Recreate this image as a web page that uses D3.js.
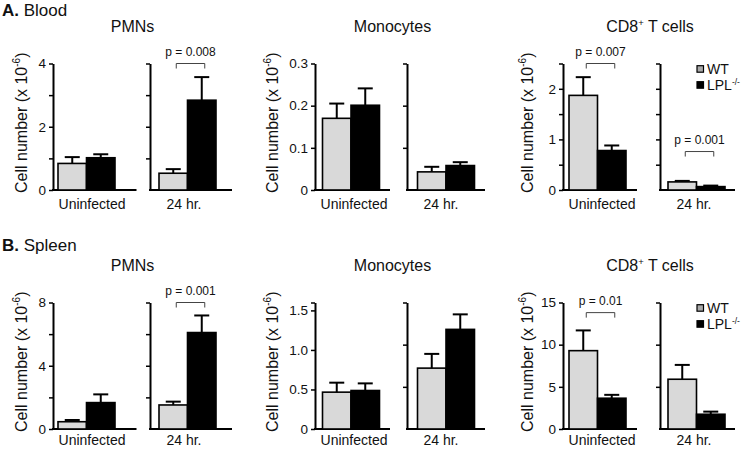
<!DOCTYPE html>
<html>
<head>
<meta charset="utf-8">
<script src="https://cdn.jsdelivr.net/npm/d3@7"></script>
<style>
  body { margin: 0; background: #fff; }
  svg text { font-family: "Liberation Sans", Arial, Helvetica, sans-serif; fill: #111; }
</style>
</head>
<body>
<script>
// ---------------- DATA ----------------
const rowLetters = ["A.", "B."];
const rowNames = ["Blood", "Spleen"];
const cellTypes = ["PMNs", "Monocytes", "CD8"];   // CD8 gets superscript "+"
const conditions = ["Uninfected", "24 hr."];
const groups = ["WT", "LPL"];                    // LPL gets superscript "-/-"

// means & SEM per cell type: [Uninfected, 24 hr.]
const bloodWTMean  = [[0.84, 0.53], [0.170, 0.043], [1.87, 0.16]];
const bloodWTSem   = [[0.20, 0.13], [0.035, 0.012], [0.36, 0.02]];
const bloodLPLMean = [[1.02, 2.84], [0.201, 0.058], [0.78, 0.067]];
const bloodLPLSem  = [[0.11, 0.73], [0.040, 0.008], [0.10, 0.02]];

const spleenWTMean  = [[0.46, 1.52], [0.466, 0.77], [9.29, 5.90]];
const spleenWTSem   = [[0.11, 0.21], [0.120, 0.18], [2.40, 1.70]];
const spleenLPLMean = [[1.67, 6.10], [0.487, 1.26], [3.65, 1.75]];
const spleenLPLSem  = [[0.52, 1.08], [0.090, 0.19], [0.40, 0.31]];

// axis domains and ticks
const bloodYMax  = [4, 0.3, 2.5];
const spleenYMax = [8, 1.6, 15];
const bloodTicks  = [[0, 1, 2, 3, 4], [0, 0.1, 0.2, 0.3], [0, 0.5, 1, 1.5, 2, 2.5]];
const spleenTicks = [[0, 2, 4, 6, 8], [0, 0.5, 1, 1.5, 1.6], [0, 5, 10, 15]];
const bloodTickLabels  = [["0", "2", "4"], ["0", "0.1", "0.2", "0.3"], ["0", "1", "2"]];
const spleenTickLabels = [["0", "4", "8"], ["0", "0.5", "1.0", "1.5"], ["0", "5", "10", "15"]];
const bloodRightTicks  = [[1, 2, 3, 4], [0.1, 0.2, 0.3], [0.5, 1, 1.5, 2, 2.5]];
const spleenRightTicks = [[2, 4, 6, 8], [0.533, 1.067, 1.6], [5, 10, 15]];

// significance brackets: cell index, condition index, label, y level (data units)
const bloodPCell  = [0, 2, 2];
const bloodPCond  = [1, 0, 1];
const bloodPText  = ["p = 0.008", "p = 0.007", "p = 0.001"];
const bloodPLevel = [4, 2.5, 0.76];
const spleenPCell  = [0, 2];
const spleenPCond  = [1, 0];
const spleenPText  = ["p = 0.001", "p = 0.01"];
const spleenPLevel = [8, 13.8];

// ---------------- LAYOUT ----------------
const W = 750, H = 449;
const rowOffset = [0, 239];
const headY = [16, 251];
const condY = [209, 206];
const plotTop = 63.5, plotBottom = 190;
const axisX = [[53, 150], [315, 407], [563, 660]];
const barStart = [[58, 159], [322.5, 417.5], [569, 668]];
const baseEnd = [[136.5, 232], [390, 485], [637, 735]];
const barW = 28.5;
const titleX = [132.5, 392.5, 650];
const yTitleX = [26.5, 277.5, 532.5];
const condLabelDx = [39, 34];
const colors = { WT: "#d9d9d9", LPL: "#000000" };

const svg = d3.select("body").append("svg")
  .attr("width", W).attr("height", H);

const rowsData = [
  { wtM: bloodWTMean, wtS: bloodWTSem, lpM: bloodLPLMean, lpS: bloodLPLSem,
    yMax: bloodYMax, ticks: bloodTicks, labels: bloodTickLabels, rTicks: bloodRightTicks,
    pCell: bloodPCell, pCond: bloodPCond, pText: bloodPText, pLevel: bloodPLevel },
  { wtM: spleenWTMean, wtS: spleenWTSem, lpM: spleenLPLMean, lpS: spleenLPLSem,
    yMax: spleenYMax, ticks: spleenTicks, labels: spleenTickLabels, rTicks: spleenRightTicks,
    pCell: spleenPCell, pCond: spleenPCond, pText: spleenPText, pLevel: spleenPLevel }
];

rowsData.forEach((R, r) => {
  const g = svg.append("g").attr("transform", `translate(0,${rowOffset[r]})`);

  // Row heading
  const head = svg.append("text").attr("x", 2).attr("y", headY[r]).style("font-size", "17px");
  head.append("tspan").style("font-weight", "bold").text(rowLetters[r]);
  head.append("tspan").text(" " + rowNames[r]);

  cellTypes.forEach((ct, c) => {
    const y = d3.scaleLinear().domain([0, R.yMax[c]]).range([plotBottom, plotTop]);

    // Panel title
    const t = g.append("text").attr("x", titleX[c]).attr("y", 32)
      .attr("text-anchor", "middle").style("font-size", "16px");
    if (ct === "CD8") {
      t.append("tspan").text("CD8");
      t.append("tspan").attr("dy", -6).style("font-size", "9.5px").text("+");
      t.append("tspan").attr("dy", 6).text(" T cells");
    } else {
      t.text(ct);
    }

    // Y-axis title
    const yt = g.append("text")
      .attr("transform", `translate(${yTitleX[c]},${(plotTop + plotBottom) / 2 - 4}) rotate(-90)`)
      .attr("text-anchor", "middle").style("font-size", "16px");
    yt.append("tspan").text("Cell number (x 10");
    yt.append("tspan").attr("dy", -6.5).style("font-size", "10px").text("-6");
    yt.append("tspan").attr("dy", 6.5).text(")");

    conditions.forEach((cond, s) => {
      const ax = axisX[c][s];
      const labelSet = new Set(R.labels[c].map(v => +v));
      const labelMap = new Map(R.labels[c].map(v => [+v, v]));
      const axis = d3.axisLeft(y)
        .tickValues(s === 0 ? R.ticks[c] : R.rTicks[c])
        .tickSize(4).tickSizeOuter(0).tickPadding(3)
        .tickFormat(d => (s === 0 && labelSet.has(d)) ? labelMap.get(d) : "");
      const ag = g.append("g").attr("transform", `translate(${ax},0)`).call(axis);
      ag.select(".domain").attr("stroke", "#000").attr("stroke-width", 2);
      ag.selectAll(".tick line").attr("stroke", "#000").attr("stroke-width", 1.5);
      ag.selectAll(".tick text").style("font-size", "13.5px")
        .style("font-family", '"Liberation Sans", Arial, sans-serif').attr("fill", "#111");

      // baseline
      g.append("line").attr("x1", ax - 1).attr("x2", baseEnd[c][s])
        .attr("y1", y(0)).attr("y2", y(0)).attr("stroke", "#000").attr("stroke-width", 2);

      // bars
      const x = d3.scaleBand().domain(groups)
        .range([barStart[c][s], barStart[c][s] + 2 * barW]).padding(0);
      const vals = [
        { g: "WT", m: R.wtM[c][s], e: R.wtS[c][s] },
        { g: "LPL", m: R.lpM[c][s], e: R.lpS[c][s] }
      ];
      g.selectAll(null).data(vals).enter().append("rect")
        .attr("x", d => x(d.g)).attr("width", x.bandwidth())
        .attr("y", d => y(d.m)).attr("height", d => y(0) - y(d.m))
        .attr("fill", d => colors[d.g]).attr("stroke", "#000").attr("stroke-width", 1.6);
      // error bars (upper only)
      vals.forEach(d => {
        const cx = x(d.g) + x.bandwidth() / 2;
        g.append("line").attr("x1", cx).attr("x2", cx)
          .attr("y1", y(d.m)).attr("y2", y(d.m + d.e))
          .attr("stroke", "#000").attr("stroke-width", 2);
        g.append("line").attr("x1", cx - 7.5).attr("x2", cx + 7.5)
          .attr("y1", y(d.m + d.e)).attr("y2", y(d.m + d.e))
          .attr("stroke", "#000").attr("stroke-width", 2);
      });

      // condition label
      g.append("text").attr("x", ax + condLabelDx[s]).attr("y", condY[r])
        .attr("text-anchor", "middle").style("font-size", "14px").text(cond);

      // significance brackets
      R.pCell.forEach((pc, i) => {
        if (pc !== c || R.pCond[i] !== s) return;
        const x1 = x("WT") + x.bandwidth() / 2 + 3;
        const x2 = x("LPL") + x.bandwidth() / 2 + 3;
        const by = y(R.pLevel[i]);
        g.append("path")
          .attr("d", `M${x1},${by + 5}V${by}H${x2}V${by + 5}`)
          .attr("fill", "none").attr("stroke", "#444").attr("stroke-width", 1);
        g.append("text").attr("x", (x1 + x2) / 2).attr("y", by - 8)
          .attr("text-anchor", "middle").style("font-size", "12px").text(R.pText[i]);
      });
    });

    // legend in CD8 panel
    if (ct === "CD8") {
      const lx = 697, ly = [65.7, 81.7];
      groups.forEach((grp, i) => {
        g.append("rect").attr("x", lx).attr("y", ly[i]).attr("width", 6.5).attr("height", 6.5)
          .attr("fill", grp === "WT" ? "#aaa" : "#000").attr("stroke", "#000").attr("stroke-width", 1.2);
        const lt = g.append("text").attr("x", lx + 10).attr("y", ly[i] + 8).style("font-size", "14px");
        if (grp === "LPL") {
          lt.append("tspan").text("LPL");
          lt.append("tspan").attr("dy", -5).style("font-size", "8.5px").text("-/-");
        } else {
          lt.text("WT");
        }
      });
    }
  });
});
</script>
</body>
</html>
